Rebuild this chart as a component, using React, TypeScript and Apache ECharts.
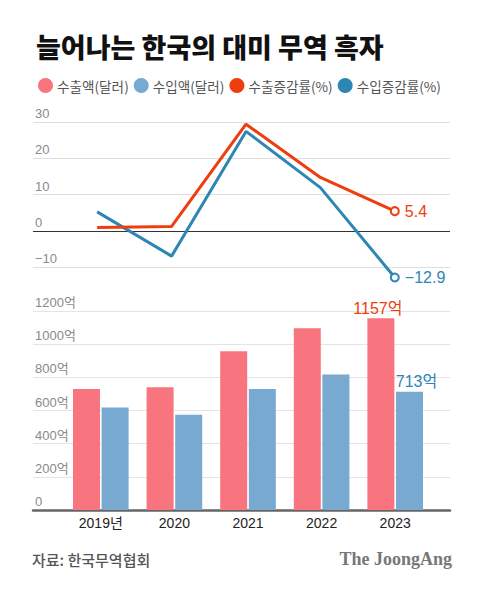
import React, { useEffect, useRef } from "react";
import * as echarts from "echarts";

const years = ["2019년", "2020", "2021", "2022", "2023"];
const exportAmt = [730, 740, 957, 1096, 1157];
const importAmt = [618, 574, 730, 817, 713];
const exportGrowth = [0.9, 1.2, 29.4, 14.7, 5.4];
const importGrowth = [5.2, -7.0, 27.4, 11.9, -12.9];

const C_EXP_BAR = "#F8757F";
const C_IMP_BAR = "#77A9D1";
const C_EXP_LINE = "#EE3D0E";
const C_IMP_LINE = "#2E86B4";

const FONT = "'Liberation Sans', 'Noto Sans CJK KR', sans-serif";
const KFONT = "'Noto Sans CJK KR', 'Liberation Sans', sans-serif";

export default function App() {
  const ref = useRef<HTMLDivElement>(null);
  useEffect(() => {
    document.body.style.margin = "0";
    const chart = echarts.init(ref.current!, null, { renderer: "svg" });
    const last = years.length - 1;
    const lineData = (vals: number[], color: string) =>
      vals.map((v, i) =>
        i === last
          ? {
              value: v,
              symbol: "emptyCircle",
              symbolSize: 8,
              itemStyle: { color: color, borderColor: color, borderWidth: 1.5 },
              label: {
                show: true,
                position: "right",
                distance: 5,
                color: color,
                fontSize: 16,
                fontFamily: FONT,
                formatter: (p: any) => (p.value < 0 ? "\u2212" + Math.abs(p.value) : String(p.value)),
              },
            }
          : { value: v, symbol: "none" }
      );
    const barData = (vals: number[], color: string, offset: number[]) =>
      vals.map((v, i) =>
        i === last
          ? {
              value: v,
              label: {
                show: true,
                position: "top",
                distance: 2,
                offset: offset,
                color: color,
                fontSize: 16,
                fontFamily: FONT,
                formatter: "{c}억",
              },
            }
          : v
      );
    const axisLabelStyle = {
      inside: true,
      margin: 2,
      align: "left",
      verticalAlign: "bottom",
      padding: [0, 0, 2, 0],
      color: "#8a8a8a",
      fontSize: 13,
      fontFamily: FONT,
    };
    chart.setOption({
      animation: false,
      backgroundColor: "#fff",
      title: {
        text: "늘어나는 한국의 대미 무역 흑자",
        left: 31,
        top: 28,
        textStyle: { fontSize: 27, fontWeight: 900, color: "#111", fontFamily: KFONT },
      },
      legend: {
        left: 33,
        top: 73,
        icon: "circle",
        itemWidth: 15,
        itemHeight: 15,
        itemGap: 5,
        textStyle: { fontSize: 13.6, color: "#555", fontFamily: KFONT, padding: [0, 0, 0, -1] },
        data: ["수출액(달러)", "수입액(달러)", "수출증감률(%)", "수입증감률(%)"],
      },
      grid: [
        { left: 33, width: 417, top: 122, height: 145 },
        { left: 60, width: 372, top: 122, height: 145 },
        { left: 33, width: 417, top: 311, height: 199 },
        { left: 64, width: 368, top: 311, height: 199 },
      ],
      xAxis: [
        { gridIndex: 0, type: "category", data: years, show: false },
        { gridIndex: 1, type: "category", data: years, show: false, boundaryGap: true },
        {
          gridIndex: 2,
          type: "category",
          data: years,
          axisLine: { show: true, lineStyle: { color: "#666", width: 2.5 } },
          axisTick: { show: false },
          axisLabel: { show: false },
        },
        {
          gridIndex: 3,
          type: "category",
          data: years,
          axisLine: { show: false },
          axisTick: { show: false },
          axisLabel: { color: "#222", fontSize: 14, fontFamily: FONT, margin: 6 },
        },
      ],
      yAxis: [
        {
          gridIndex: 0,
          type: "value",
          min: -10,
          max: 30,
          interval: 10,
          axisLine: { show: false },
          axisTick: { show: false },
          axisLabel: { ...axisLabelStyle, formatter: (v: number) => (v < 0 ? "\u2212" + Math.abs(v) : String(v)) },
          splitLine: { lineStyle: { color: ["#dedede", "#333", "#dedede", "#dedede", "#dedede"], width: 1 } },
        },
        { gridIndex: 1, type: "value", min: -10, max: 30, show: false },
        {
          gridIndex: 2,
          type: "value",
          min: 0,
          max: 1200,
          interval: 200,
          axisLine: { show: false },
          axisTick: { show: false },
          axisLabel: { ...axisLabelStyle, formatter: (v: number) => (v === 0 ? "0" : v + "억") },
          splitLine: { lineStyle: { color: "#e4e4e4", width: 1 } },
        },
        { gridIndex: 3, type: "value", min: 0, max: 1200, show: false },
      ],
      series: [
        {
          name: "수출액(달러)",
          type: "bar",
          xAxisIndex: 3,
          yAxisIndex: 3,
          data: barData(exportAmt, C_EXP_LINE, [-3, 0]),
          itemStyle: { color: C_EXP_BAR },
          barWidth: 27,
          barGap: "6%",
        },
        {
          name: "수입액(달러)",
          type: "bar",
          xAxisIndex: 3,
          yAxisIndex: 3,
          data: barData(importAmt, C_IMP_LINE, [7, 0]),
          itemStyle: { color: C_IMP_BAR },
          barWidth: 27,
          barGap: "6%",
        },
        {
          name: "수출증감률(%)",
          type: "line",
          xAxisIndex: 1,
          yAxisIndex: 1,
          clip: false,
          data: lineData(exportGrowth, C_EXP_LINE),
          lineStyle: { color: C_EXP_LINE, width: 3 },
          itemStyle: { color: C_EXP_LINE },
          z: 3,
        },
        {
          name: "수입증감률(%)",
          type: "line",
          xAxisIndex: 1,
          yAxisIndex: 1,
          clip: false,
          data: lineData(importGrowth, C_IMP_LINE),
          lineStyle: { color: C_IMP_LINE, width: 3 },
          itemStyle: { color: C_IMP_LINE },
          z: 2,
        },
      ],
      graphic: [
        {
          type: "text",
          left: 32,
          top: 552,
          style: { text: "자료: 한국무역협회", fontSize: 15, fontWeight: 500, fill: "#555", fontFamily: KFONT },
        },
        {
          type: "text",
          right: 28,
          top: 550,
          style: {
            text: "The JoongAng",
            fontSize: 18,
            fontWeight: "bold",
            fill: "#777",
            fontFamily: "'Liberation Serif', 'DejaVu Serif', serif",
          },
        },
      ],
    });
    return () => chart.dispose();
  }, []);
  return <div ref={ref} style={{ width: 480, height: 590 }} />;
}
